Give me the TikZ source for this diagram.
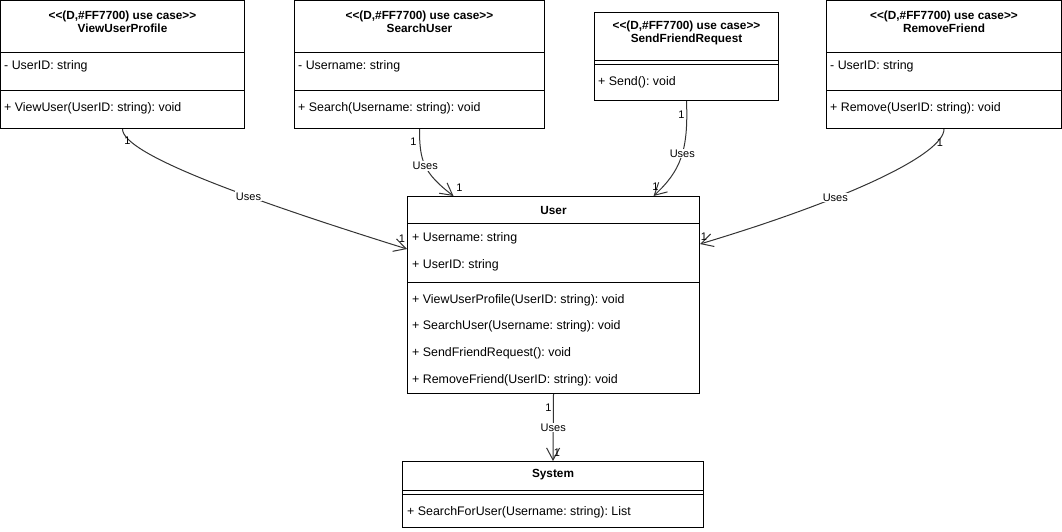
\documentclass[tikz,border=0pt]{standalone}
\usepackage{fontspec}
\setmainfont{Liberation Sans}[Ligatures=TeXOff]
\usepackage{tikz}
\usetikzlibrary{positioning, arrows.meta, calc}
\frenchspacing

\begin{document}
\begin{tikzpicture}[x=1pt, y=1pt,
	font=\fontsize{11}{13}\selectfont,
	classbox/.style={draw, line width=1pt, anchor=north west, inner sep=0pt},
	classname/.style={font=\fontsize{11.8}{13.5}\selectfont\bfseries, align=center, inner sep=0pt},
	member/.style={anchor=west, inner sep=0pt, font=\fontsize{12.4}{14}\selectfont},
	sep/.style={line width=1pt},
	uses/.style={draw=black!80, line width=1pt, -{Straight Barb[length=12pt,width=13pt]}},
	useslbl/.style={fill=white, inner sep=1pt},
	mult/.style={inner sep=0pt}]

	\useasboundingbox (0,0) rectangle (1062,-531);

	% use case classes
	\node[classbox, minimum width=244, minimum height=128] (vup) at (0,0) {};
	\node[classname] (vup-name) at ($(vup.north)+(0,-22)$) {<<(D,\#FF7700) use case>>\\ViewUserProfile};
	\draw[sep] ($(vup.north west)+(0,-52)$) -- ($(vup.north east)+(0,-52)$);
	\draw[sep] ($(vup.north west)+(0,-90)$) -- ($(vup.north east)+(0,-90)$);
	\node[member] (vup-attr) at ($(vup.north west)+(4,-66)$) {- UserID: string};
	\node[member] (vup-op) at ($(vup.north west)+(4,-108)$) {+ ViewUser(UserID: string): void};

	\node[classbox, minimum width=250, minimum height=128] (su) at (294,0) {};
	\node[classname] (su-name) at ($(su.north)+(0,-22)$) {<<(D,\#FF7700) use case>>\\SearchUser};
	\draw[sep] ($(su.north west)+(0,-52)$) -- ($(su.north east)+(0,-52)$);
	\draw[sep] ($(su.north west)+(0,-90)$) -- ($(su.north east)+(0,-90)$);
	\node[member] (su-attr) at ($(su.north west)+(4,-66)$) {- Username: string};
	\node[member] (su-op) at ($(su.north west)+(4,-108)$) {+ Search(Username: string): void};

	\node[classbox, minimum width=184, minimum height=88] (sfr) at (594,-12) {};
	\node[classname] (sfr-name) at ($(sfr.north)+(0,-21)$) {<<(D,\#FF7700) use case>>\\SendFriendRequest};
	\draw[sep] ($(sfr.north west)+(0,-48)$) -- ($(sfr.north east)+(0,-48)$);
	\draw[sep] ($(sfr.north west)+(0,-52)$) -- ($(sfr.north east)+(0,-52)$);
	\node[member] (sfr-op) at ($(sfr.north west)+(4,-70)$) {+ Send(): void};

	\node[classbox, minimum width=235, minimum height=128] (rf) at (826,0) {};
	\node[classname] (rf-name) at ($(rf.north)+(0,-22)$) {<<(D,\#FF7700) use case>>\\RemoveFriend};
	\draw[sep] ($(rf.north west)+(0,-52)$) -- ($(rf.north east)+(0,-52)$);
	\draw[sep] ($(rf.north west)+(0,-90)$) -- ($(rf.north east)+(0,-90)$);
	\node[member] (rf-attr) at ($(rf.north west)+(4,-66)$) {- UserID: string};
	\node[member] (rf-op) at ($(rf.north west)+(4,-108)$) {+ Remove(UserID: string): void};

	% User
	\node[classbox, minimum width=292, minimum height=197] (user) at (407,-196) {};
	\node[classname] (user-name) at ($(user.north)+(0,-14)$) {User};
	\draw[sep] ($(user.north west)+(0,-27)$) -- ($(user.north east)+(0,-27)$);
	\node[member] (user-name-attr) at ($(user.north west)+(5,-42)$) {+ Username: string};
	\node[member] (user-id-attr) at ($(user.north west)+(5,-69)$) {+ UserID: string};
	\draw[sep] ($(user.north west)+(0,-86)$) -- ($(user.north east)+(0,-86)$);
	\node[member] (user-op1) at ($(user.north west)+(5,-104)$) {+ ViewUserProfile(UserID: string): void};
	\node[member] (user-op2) at ($(user.north west)+(5,-130)$) {+ SearchUser(Username: string): void};
	\node[member] (user-op3) at ($(user.north west)+(5,-157)$) {+ SendFriendRequest(): void};
	\node[member] (user-op4) at ($(user.north west)+(5,-184)$) {+ RemoveFriend(UserID: string): void};

	% System
	\node[classbox, minimum width=301, minimum height=66] (sys) at (402,-461) {};
	\node[classname] (sys-name) at ($(sys.north)+(0,-14)$) {System};
	\draw[sep] ($(sys.north west)+(0,-29)$) -- ($(sys.north east)+(0,-29)$);
	\draw[sep] ($(sys.north west)+(0,-33)$) -- ($(sys.north east)+(0,-33)$);
	\node[member] (sys-op) at ($(sys.north west)+(5,-51)$) {+ SearchForUser(Username: string): List};

	% associations
	\draw[uses] (vup.south) .. controls +(0,-25) and +(-160,50) .. ($(user.north west)+(0,-53)$)
		node[useslbl, pos=0.63] (uses-vup) {Uses};
	\draw[uses] (su.south) .. controls +(0,-32) and +(-30,23) .. ($(user.north)+(-100,0)$)
		node[useslbl, pos=0.5] (uses-su) {Uses};
	\draw[uses] (sfr.south) .. controls +(2,-50) and +(27,25) .. ($(user.north)+(100,0)$)
		node[useslbl, pos=0.45] (uses-sfr) {Uses};
	\draw[uses] (rf.south) .. controls +(0,-25) and +(150,45) .. ($(user.north east)+(0,-48)$)
		node[useslbl, pos=0.65] (uses-rf) {Uses};
	\draw[uses] (user.south) -- (sys.north)
		node[useslbl, pos=0.5] (uses-sys) {Uses};

	% multiplicities
	\node[mult] (m-vup) at ($(vup.south)+(5,-12)$) {1};
	\node[mult] (m-vup-user) at ($(user.north west)+(-5,-43)$) {1};
	\node[mult] (m-su) at ($(su.south)+(-6,-13)$) {1};
	\node[mult] (m-su-user) at ($(user.north)+(-94,8)$) {1};
	\node[mult] (m-sfr) at ($(sfr.south)+(-5,-14)$) {1};
	\node[mult] (m-sfr-user) at ($(user.north)+(102,9)$) {1};
	\node[mult] (m-rf) at ($(rf.south)+(-4,-14)$) {1};
	\node[mult] (m-rf-user) at ($(user.north east)+(4,-41)$) {1};
	\node[mult] (m-user) at ($(user.south)+(-5,-14)$) {1};
	\node[mult] (m-sys) at ($(sys.north)+(4,8)$) {1};
\end{tikzpicture}
\end{document}
